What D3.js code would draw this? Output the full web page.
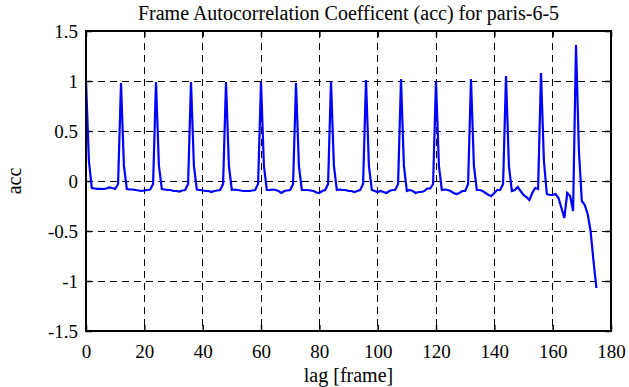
<!DOCTYPE html>
<html>
<head>
<meta charset="utf-8">
<script src="https://cdn.jsdelivr.net/npm/d3@7"></script>
<style>
  body { margin: 0; background: #fff; }
  text { font-family: "Liberation Serif", "Times New Roman", serif; fill: #000; }
</style>
</head>
<body>
<svg id="chart1" width="629" height="387"></svg>
<script>
// data, one value per lag frame 0..175
const acc = [
  1.0, 0.2, -0.07, -0.075, -0.078, -0.078, -0.08, -0.075, -0.065, -0.07, -0.08, -0.03,
  0.98, 0.15, -0.08, -0.085, -0.085, -0.09, -0.095, -0.1, -0.095, -0.09, -0.085, -0.03,
  0.99, 0.15, -0.08, -0.085, -0.09, -0.09, -0.1, -0.1, -0.105, -0.095, -0.09, -0.03,
  0.99, 0.15, -0.085, -0.09, -0.095, -0.1, -0.1, -0.11, -0.1, -0.095, -0.09, -0.03,
  0.99, 0.15, -0.09, -0.085, -0.09, -0.095, -0.1, -0.1, -0.1, -0.095, -0.09, -0.03,
  0.99, 0.15, -0.09, -0.09, -0.085, -0.09, -0.1, -0.12, -0.1, -0.095, -0.09, -0.03,
  0.98, 0.15, -0.09, -0.09, -0.09, -0.095, -0.1, -0.115, -0.12, -0.1, -0.09, -0.03,
  1.0, 0.15, -0.09, -0.085, -0.09, -0.09, -0.1, -0.1, -0.11, -0.1, -0.09, -0.03,
  1.01, 0.15, -0.09, -0.1, -0.11, -0.1, -0.11, -0.12, -0.1, -0.09, -0.09, -0.03,
  1.02, 0.15, -0.1, -0.09, -0.1, -0.12, -0.11, -0.11, -0.1, -0.075, -0.075, -0.03,
  1.0, 0.15, -0.09, -0.085, -0.09, -0.1, -0.12, -0.13, -0.12, -0.1, -0.1, -0.03,
  1.02, 0.15, -0.09, -0.09, -0.1, -0.12, -0.14, -0.15, -0.12, -0.09, -0.09, -0.03,
  1.05, 0.15, -0.1, -0.09, -0.06, -0.1, -0.14, -0.16, -0.19, -0.12, -0.07, -0.08,
  1.08, 0.2, -0.13, -0.14, -0.14, -0.13, -0.17, -0.27, -0.37, -0.12, -0.15, -0.3,
  1.36, 0.3, -0.2, -0.24, -0.33, -0.5, -0.8, -1.07
];
const lags = acc.map((d, i) => i);

const xTicks = [0, 20, 40, 60, 80, 100, 120, 140, 160, 180];
const yTicks = [-1.5, -1, -0.5, 0, 0.5, 1, 1.5];

const titleText = "Frame Autocorrelation Coefficent (acc) for paris-6-5";
const xLabelText = "lag [frame]";
const yLabelText = "acc";

const svg = d3.select("#chart1");

// plot box in pixels
const boxLeft = 86, boxRight = 611, boxTop = 31, boxBottom = 331;

const xScale = d3.scaleLinear().domain([0, 180]).range([boxLeft, boxRight]);
const yScale = d3.scaleLinear().domain([-1.5, 1.5]).range([boxBottom, boxTop]);

// gridlines
svg.append("g")
  .selectAll("line")
  .data(xTicks.slice(1, -1))
  .join("line")
  .attr("x1", d => xScale(d)).attr("x2", d => xScale(d))
  .attr("y1", boxTop).attr("y2", boxBottom)
  .attr("stroke", "#000").attr("stroke-width", 1)
  .attr("stroke-dasharray", "7,5")
  .attr("shape-rendering", "crispEdges");

svg.append("g")
  .selectAll("line")
  .data(yTicks.slice(1, -1))
  .join("line")
  .attr("x1", boxLeft).attr("x2", boxRight)
  .attr("y1", d => yScale(d)).attr("y2", d => yScale(d))
  .attr("stroke", "#000").attr("stroke-width", 1)
  .attr("stroke-dasharray", "7,5")
  .attr("shape-rendering", "crispEdges");

// axes with inward ticks on all four sides
const axisStyle = g => {
  g.select(".domain").remove();
  g.selectAll(".tick line").attr("stroke", "#000").attr("stroke-width", 1.5);
  g.selectAll(".tick text")
    .attr("font-size", "19px")
    .attr("font-family", "Liberation Serif, serif");
};

svg.append("g")
  .attr("transform", `translate(0,${boxBottom})`)
  .call(d3.axisBottom(xScale).tickValues(xTicks).tickSizeInner(-6).tickPadding(14).tickFormat(d3.format("d")))
  .call(axisStyle);

svg.append("g")
  .attr("transform", `translate(0,${boxTop})`)
  .call(d3.axisTop(xScale).tickValues(xTicks).tickSizeInner(-6).tickFormat(""))
  .call(axisStyle);

svg.append("g")
  .attr("transform", `translate(${boxLeft},0)`)
  .call(d3.axisLeft(yScale).tickValues(yTicks).tickSizeInner(-6).tickPadding(8).tickFormat(d => String(d)))
  .call(axisStyle);

svg.append("g")
  .attr("transform", `translate(${boxRight},0)`)
  .call(d3.axisRight(yScale).tickValues(yTicks).tickSizeInner(-6).tickFormat(""))
  .call(axisStyle);

// the line
const line = d3.line()
  .x((d, i) => xScale(lags[i]))
  .y(d => yScale(d));

svg.append("path")
  .datum(acc)
  .attr("d", line)
  .attr("fill", "none")
  .attr("stroke", "#0000ff")
  .attr("stroke-width", 2.2)
  .attr("stroke-linejoin", "miter");

// box
svg.append("rect")
  .attr("x", boxLeft).attr("y", boxTop)
  .attr("width", boxRight - boxLeft).attr("height", boxBottom - boxTop)
  .attr("fill", "none")
  .attr("stroke", "#000").attr("stroke-width", 2);

// labels
svg.append("text")
  .attr("x", (boxLeft + boxRight) / 2).attr("y", 20)
  .attr("text-anchor", "middle")
  .attr("font-size", "20px")
  .text(titleText);

svg.append("text")
  .attr("x", (boxLeft + boxRight) / 2).attr("y", 382)
  .attr("text-anchor", "middle")
  .attr("font-size", "20px")
  .text(xLabelText);

svg.append("text")
  .attr("transform", `translate(21,${yScale(0)}) rotate(-90)`)
  .attr("text-anchor", "middle")
  .attr("font-size", "20px")
  .text(yLabelText);
</script>
</body>
</html>
